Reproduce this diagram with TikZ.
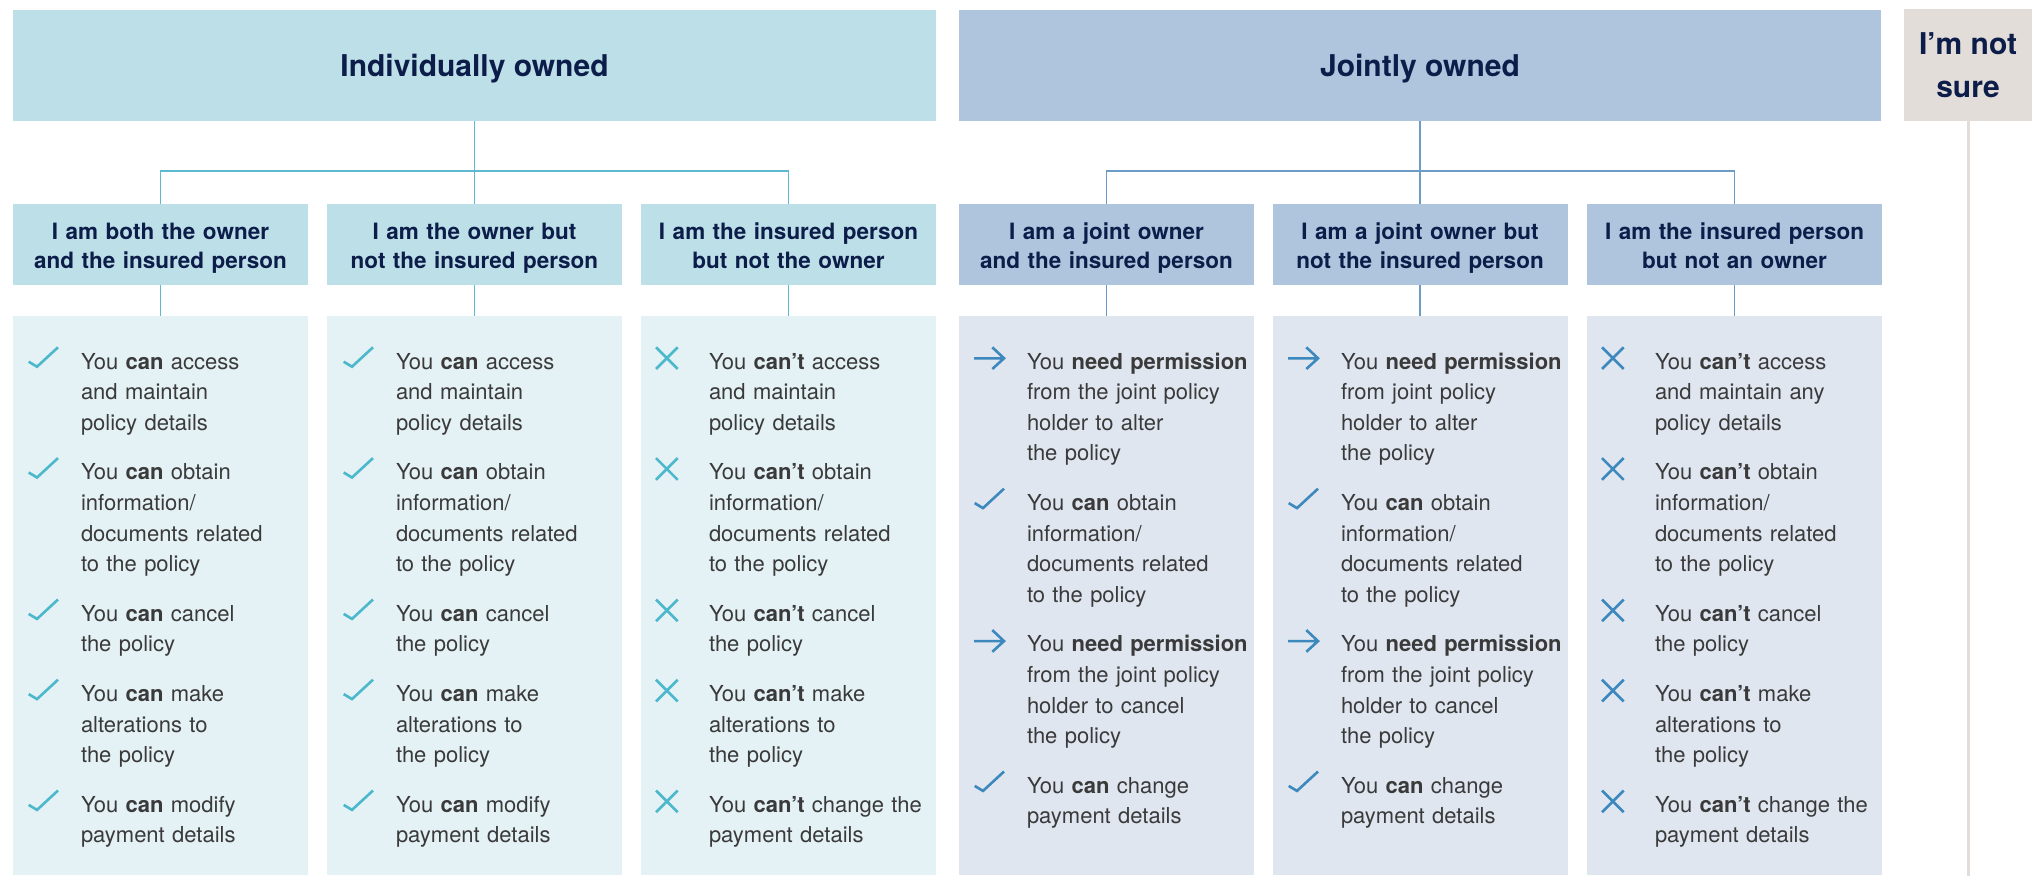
\documentclass[tikz,border=0pt]{standalone}
\usepackage{fontspec}
\setmainfont{TeX Gyre Heros}
\begin{document}
\begin{tikzpicture}[x=1pt,y=-1pt,
  every node/.style={inner sep=0pt,outer sep=0pt},
  titleL/.style={fill=hdrL,text=navy,font=\fontsize{30}{36}\selectfont\bfseries,minimum height=111pt,text depth=0pt},
  titleR/.style={fill=hdrR,text=navy,font=\fontsize{30}{36}\selectfont\bfseries,minimum height=111pt,text depth=0pt},
  hdrLbox/.style={fill=hdrL,minimum width=295pt,minimum height=81pt},
  hdrRbox/.style={fill=hdrR,minimum width=295pt,minimum height=81pt},
  hdrtext/.style={anchor=base,text=navy,font=\fontsize{22.5}{29}\selectfont\bfseries,align=center,text width=295pt},
  bodyLbox/.style={fill=bodyL,minimum width=295pt,minimum height=559pt},
  bodyRbox/.style={fill=bodyR,minimum width=295pt,minimum height=559pt},
  btext/.style={anchor=base west,text=bodytxt,font=\fontsize{22}{30.6}\selectfont,text width=228pt,align=left},
  connL/.style={draw=lineL,line width=1.5pt},
  connR/.style={draw=lineR,line width=1.5pt},
  pics/chk/.style={code={\draw[draw=#1,line width=2.6pt] (15.7,-7.3) -- (24,-2.3) -- (45,-21.7);}},
  pics/crs/.style={code={\draw[draw=#1,line width=2.6pt] (15,-21.7) -- (36.7,0) (15,0) -- (36.7,-21.7);}},
  pics/arw/.style={code={\draw[draw=#1,line width=2.6pt] (15,-10.7) -- (45,-10.7) (33.3,-21.7) -- (45,-10.7) -- (33.3,0);}}
]
\definecolor{hdrL}{HTML}{BDDFE8}
\definecolor{hdrR}{HTML}{AEC5DD}
\definecolor{bodyL}{HTML}{E4F1F5}
\definecolor{bodyR}{HTML}{DFE6F0}
\definecolor{notsure}{HTML}{E2DDD8}
\definecolor{navy}{HTML}{0C1D4A}
\definecolor{bodytxt}{HTML}{3A3A3A}
\definecolor{lineL}{HTML}{5DB9CF}
\definecolor{lineR}{HTML}{6A9CC6}
\definecolor{icoL}{HTML}{4BB8CC}
\definecolor{icoR}{HTML}{3D88BD}
\useasboundingbox (0,0) rectangle (2038,876);

% top boxes
\node[titleL,minimum width=923pt] (IO) at (474.5,65.5) {Individually owned};
\node[titleR,minimum width=922pt] (JO) at (1420,65.5) {Jointly owned};
\node[fill=notsure,text=navy,font=\fontsize{30}{43}\selectfont\bfseries,align=center,minimum width=128pt,minimum height=112pt] (NS) at (1968,65) {I’m not\\sure};

% header boxes
\node[hdrLbox] (h1) at (160.5,244.5) {};
\node[hdrLbox] (h2) at (474.5,244.5) {};
\node[hdrLbox] (h3) at (788.5,244.5) {};
\node[hdrRbox] (h4) at (1106.5,244.5) {};
\node[hdrRbox] (h5) at (1420,244.5) {};
\node[hdrRbox] (h6) at (1734.5,244.5) {};
% header texts
\node[hdrtext] (ht1) at (160.5,239.8) {I am both the owner\\and the insured person};
\node[hdrtext] (ht2) at (474.5,239.8) {I am the owner but\\not the insured person};
\node[hdrtext] (ht3) at (788.5,239.8) {I am the insured person\\but not the owner};
\node[hdrtext] (ht4) at (1106.5,239.8) {I am a joint owner\\and the insured person};
\node[hdrtext] (ht5) at (1420,239.8) {I am a joint owner but\\not the insured person};
\node[hdrtext] (ht6) at (1734.5,239.8) {I am the insured person\\but not an owner};

% bodies
\node[bodyLbox] (b1) at (160.5,595.5) {};
\node[bodyLbox] (b2) at (474.5,595.5) {};
\node[bodyLbox] (b3) at (788.5,595.5) {};
\node[bodyRbox] (b4) at (1106.5,595.5) {};
\node[bodyRbox] (b5) at (1420,595.5) {};
\node[bodyRbox] (b6) at (1734.5,595.5) {};

% connectors
\draw[connL] (IO.south) -- (h2.north);
\draw[connL] (h1.north) -- ++(0,-33) -| (h3.north);
\draw[connR] (JO.south) -- (h5.north);
\draw[connR] (h4.north) -- ++(0,-33) -| (h6.north);
\draw[connL] (h1.south) -- (b1.north);
\draw[connL] (h2.south) -- (b2.north);
\draw[connL] (h3.south) -- (b3.north);
\draw[connR] (h4.south) -- (b4.north);
\draw[connR] (h5.south) -- (b5.north);
\draw[connR] (h6.south) -- (b6.north);
\coordinate (NSend) at (1968,876);
\draw[draw=notsure,line width=3pt] (NS.south) -- (NSend);

% column 1
\pic at (13,369) {chk=icoL};
\node[btext] (t11) at (81,369) {You \textbf{can} access\\and maintain\\policy details};
\pic at (13,479.8) {chk=icoL};
\node[btext] (t12) at (81,479.8) {You \textbf{can} obtain\\information/\\documents related\\to the policy};
\pic at (13,621.2) {chk=icoL};
\node[btext] (t13) at (81,621.2) {You \textbf{can} cancel\\the policy};
\pic at (13,701.4) {chk=icoL};
\node[btext] (t14) at (81,701.4) {You \textbf{can} make\\alterations to\\the policy};
\pic at (13,812.2) {chk=icoL};
\node[btext] (t15) at (81,812.2) {You \textbf{can} modify\\payment details};

% column 2
\pic at (328,369) {chk=icoL};
\node[btext] (t21) at (396,369) {You \textbf{can} access\\and maintain\\policy details};
\pic at (328,479.8) {chk=icoL};
\node[btext] (t22) at (396,479.8) {You \textbf{can} obtain\\information/\\documents related\\to the policy};
\pic at (328,621.2) {chk=icoL};
\node[btext] (t23) at (396,621.2) {You \textbf{can} cancel\\the policy};
\pic at (328,701.4) {chk=icoL};
\node[btext] (t24) at (396,701.4) {You \textbf{can} make\\alterations to\\the policy};
\pic at (328,812.2) {chk=icoL};
\node[btext] (t25) at (396,812.2) {You \textbf{can} modify\\payment details};

% column 3
\pic at (641,369) {crs=icoL};
\node[btext] (t31) at (709,369) {You \textbf{can’t} access\\and maintain\\policy details};
\pic at (641,479.8) {crs=icoL};
\node[btext] (t32) at (709,479.8) {You \textbf{can’t} obtain\\information/\\documents related\\to the policy};
\pic at (641,621.2) {crs=icoL};
\node[btext] (t33) at (709,621.2) {You \textbf{can’t} cancel\\the policy};
\pic at (641,701.4) {crs=icoL};
\node[btext] (t34) at (709,701.4) {You \textbf{can’t} make\\alterations to\\the policy};
\pic at (641,812.2) {crs=icoL};
\node[btext] (t35) at (709,812.2) {You \textbf{can’t} change the\\payment details};

% column 4
\pic at (959,369) {arw=icoR};
\node[btext] (t41) at (1027,369) {You \textbf{need permission}\\from the joint policy\\holder to alter\\the policy};
\pic at (959,510.4) {chk=icoR};
\node[btext] (t42) at (1027,510.4) {You \textbf{can} obtain\\information/\\documents related\\to the policy};
\pic at (959,651.8) {arw=icoR};
\node[btext] (t43) at (1027,651.8) {You \textbf{need permission}\\from the joint policy\\holder to cancel\\the policy};
\pic at (959,793.2) {chk=icoR};
\node[btext] (t44) at (1027,793.2) {You \textbf{can} change\\payment details};

% column 5
\pic at (1273,369) {arw=icoR};
\node[btext] (t51) at (1341,369) {You \textbf{need permission}\\from joint policy\\holder to alter\\the policy};
\pic at (1273,510.4) {chk=icoR};
\node[btext] (t52) at (1341,510.4) {You \textbf{can} obtain\\information/\\documents related\\to the policy};
\pic at (1273,651.8) {arw=icoR};
\node[btext] (t53) at (1341,651.8) {You \textbf{need permission}\\from the joint policy\\holder to cancel\\the policy};
\pic at (1273,793.2) {chk=icoR};
\node[btext] (t54) at (1341,793.2) {You \textbf{can} change\\payment details};

% column 6
\pic at (1587,369) {crs=icoR};
\node[btext] (t61) at (1655,369) {You \textbf{can’t} access\\and maintain any\\policy details};
\pic at (1587,479.8) {crs=icoR};
\node[btext] (t62) at (1655,479.8) {You \textbf{can’t} obtain\\information/\\documents related\\to the policy};
\pic at (1587,621.2) {crs=icoR};
\node[btext] (t63) at (1655,621.2) {You \textbf{can’t} cancel\\the policy};
\pic at (1587,701.4) {crs=icoR};
\node[btext] (t64) at (1655,701.4) {You \textbf{can’t} make\\alterations to\\the policy};
\pic at (1587,812.2) {crs=icoR};
\node[btext] (t65) at (1655,812.2) {You \textbf{can’t} change the\\payment details};
\end{tikzpicture}
\end{document}
